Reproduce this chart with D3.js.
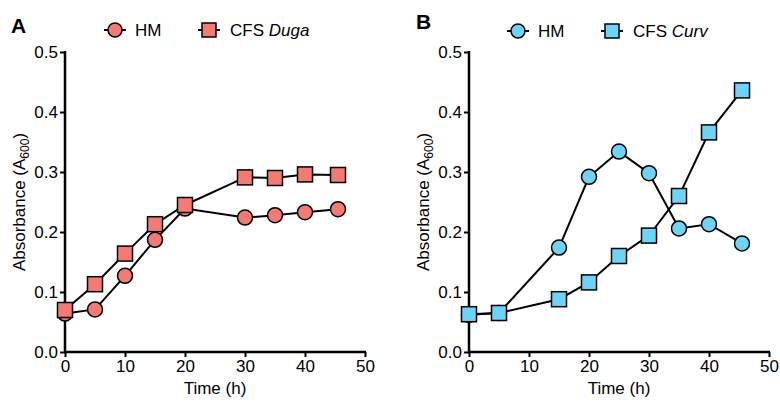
<!DOCTYPE html>
<html>
<head>
<meta charset="utf-8">
<script src="https://cdn.jsdelivr.net/npm/d3@7"></script>
<style>
  body { margin: 0; background: #fff; }
  svg text { font-family: "Liberation Sans", Arial, sans-serif; fill: #000; }
</style>
</head>
<body>
<div id="chart"></div>
<script>
'use strict';

// Data
const timeA = [0, 5, 10, 15, 20, 30, 35, 40, 45.5];
const hmA = [0.064, 0.071, 0.127, 0.187, 0.239, 0.224, 0.228, 0.233, 0.238];
const cfsA = [0.070, 0.113, 0.164, 0.213, 0.245, 0.291, 0.290, 0.296, 0.295];

const timeB = [0, 5, 15, 20, 25, 30, 35, 40, 45.5];
const hmB = [0.062, 0.065, 0.174, 0.292, 0.334, 0.298, 0.206, 0.213, 0.181];
const cfsB = [0.063, 0.065, 0.088, 0.116, 0.160, 0.194, 0.260, 0.366, 0.436];

const xTicks = [0, 10, 20, 30, 40, 50];
const yTicks = [0, 0.1, 0.2, 0.3, 0.4, 0.5];

const panels = [
    { letter: "A", left: 65, color: "#f47b74", cfsName: "Duga", time: timeA, hm: hmA, cfs: cfsA, legendX: 115 },
    { letter: "B", left: 469, color: "#6dd3f7", cfsName: "Curv", time: timeB, hm: hmB, cfs: cfsB, legendX: 518 }
];

const width = 780, height = 405;
const svg = d3.select("#chart").append("svg")
    .attr("width", width)
    .attr("height", height);

const plotW = 300, plotTop = 52, plotBottom = 352;
const fs = 17;

panels.forEach(p => {
    const x = d3.scaleLinear().domain([0, 50]).range([p.left, p.left + plotW]);
    const y = d3.scaleLinear().domain([0, 0.5]).range([plotBottom, plotTop]);

    const g = svg.append("g");

    // Axes
    const axX = g.append("g")
        .attr("transform", `translate(0,${plotBottom})`)
        .call(d3.axisBottom(x).tickValues(xTicks).tickSize(5).tickPadding(3).tickFormat(d3.format("d")));
    const axY = g.append("g")
        .attr("transform", `translate(${p.left},0)`)
        .call(d3.axisLeft(y).tickValues(yTicks).tickSize(5).tickPadding(2).tickFormat(d3.format(".1f")));

    [axX, axY].forEach(ax => {
        ax.attr("font-size", fs).attr("font-family", null);
        ax.select(".domain").attr("stroke", "#000").attr("stroke-width", 2.5);
        ax.selectAll(".tick line").attr("stroke", "#000").attr("stroke-width", 2);
        ax.selectAll(".tick text").attr("fill", "#000");
    });
    axY.select(".domain").attr("d", `M0,${plotBottom + 1}V${plotTop - 1}`);
    axX.select(".domain").attr("d", `M${p.left - 1},0H${p.left + plotW + 1}`);

    // Axis titles
    g.append("text")
        .attr("x", p.left + plotW / 2)
        .attr("y", 394)
        .attr("text-anchor", "middle")
        .attr("font-size", fs)
        .text("Time (h)");

    const yt = g.append("text")
        .attr("transform", `translate(${p.left - 40},${(plotTop + plotBottom) / 2}) rotate(-90)`)
        .attr("text-anchor", "middle")
        .attr("font-size", fs);
    yt.append("tspan").text("Absorbance (A");
    yt.append("tspan").attr("font-size", 12).attr("dy", 4).text("600");
    yt.append("tspan").attr("dy", -4).text(")");

    // Panel letter
    g.append("text")
        .attr("x", p.letter === "A" ? 11 : 416)
        .attr("y", p.letter === "A" ? 33 : 29)
        .attr("font-size", 21)
        .attr("font-weight", "bold")
        .text(p.letter);

    const line = d3.line().x(d => x(d[0])).y(d => y(d[1]));
    const hmData = p.time.map((t, i) => [t, p.hm[i]]);
    const cfsData = p.time.map((t, i) => [t, p.cfs[i]]);

    [hmData, cfsData].forEach(data => {
        g.append("path")
            .datum(data)
            .attr("d", line)
            .attr("fill", "none")
            .attr("stroke", "#000")
            .attr("stroke-width", 2);
    });

    g.selectAll(".hm")
        .data(hmData)
        .join("circle")
        .attr("cx", d => x(d[0]))
        .attr("cy", d => y(d[1]))
        .attr("r", 7.5)
        .attr("fill", p.color)
        .attr("stroke", "#000")
        .attr("stroke-width", 1.5);

    const s = 15;
    g.selectAll(".cfs")
        .data(cfsData)
        .join("rect")
        .attr("x", d => x(d[0]) - s / 2)
        .attr("y", d => y(d[1]) - s / 2)
        .attr("width", s)
        .attr("height", s)
        .attr("fill", p.color)
        .attr("stroke", "#000")
        .attr("stroke-width", 1.5);

    // Legend
    const ly = p.letter === "A" ? 30 : 31;
    const lg = g.append("g");
    const l1 = p.legendX, l2 = p.legendX + 94;
    [l1, l2].forEach(cx => {
        lg.append("line")
            .attr("x1", cx - 11).attr("x2", cx + 11)
            .attr("y1", ly).attr("y2", ly)
            .attr("stroke", "#000").attr("stroke-width", 2);
    });
    lg.append("circle")
        .attr("cx", l1).attr("cy", ly).attr("r", 7)
        .attr("fill", p.color).attr("stroke", "#000").attr("stroke-width", 1.5);
    lg.append("rect")
        .attr("x", l2 - 7).attr("y", ly - 7)
        .attr("width", 14).attr("height", 14)
        .attr("fill", p.color).attr("stroke", "#000").attr("stroke-width", 1.5);
    lg.append("text")
        .attr("x", l1 + 20).attr("y", ly + 6)
        .attr("font-size", fs)
        .text("HM");
    const t2 = lg.append("text")
        .attr("x", l2 + 21).attr("y", ly + 6)
        .attr("font-size", fs);
    t2.append("tspan").text("CFS ");
    t2.append("tspan").attr("font-style", "italic").text(p.cfsName);
});
</script>
</body>
</html>
